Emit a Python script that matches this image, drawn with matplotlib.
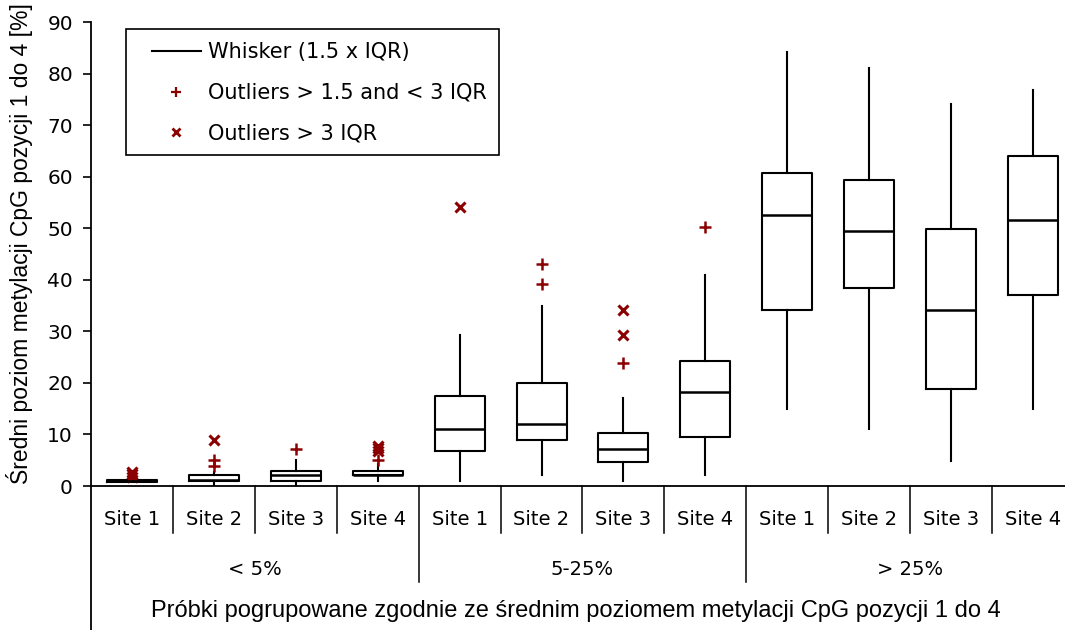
"""Box plot of mean CpG methylation per site, grouped by methylation level."""

import matplotlib
matplotlib.use("Agg")
import matplotlib.pyplot as plt
from matplotlib.lines import Line2D
from matplotlib.patches import Rectangle
from matplotlib.transforms import blended_transform_factory

# Categories
sites = ["Site 1", "Site 2", "Site 3", "Site 4"] * 3
groups = ["< 5%", "5-25%", "> 25%"]

# Box statistics (one value per box)
whislo = [0.7, 0.1, 0.1, 1.0, 1.0, 2.1, 1.0, 2.1, 14.9, 11.0, 4.9, 14.9]
q1 = [0.8, 1.0, 1.0, 2.1, 6.8, 8.9, 4.6, 9.6, 34.1, 38.4, 18.9, 37.0]
med = [1.0, 1.2, 2.1, 2.2, 11.1, 12.1, 7.2, 18.2, 52.6, 49.5, 34.2, 51.5]
q3 = [1.2, 2.1, 3.0, 3.0, 17.5, 20.0, 10.3, 24.2, 60.8, 59.4, 49.8, 64.0]
whishi = [1.3, 2.8, 5.0, 4.2, 29.2, 34.9, 17.1, 40.9, 84.1, 81.1, 74.0, 76.8]

# Outliers: between 1.5 and 3 IQR (+) and beyond 3 IQR (x)
mild = [[], [3.9, 5.0], [7.1], [5.0], [], [39.1, 43.0], [23.9], [50.2],
        [], [], [], []]
extreme = [[1.8, 2.3, 2.8], [8.9], [], [6.8, 7.3, 7.8], [54.1], [],
           [29.2, 34.1], [], [], [], [], []]

dark_red = "#8b0000"
wide_font = "DejaVu Sans"
text_font = ["Liberation Sans", "DejaVu Sans"]

fig = plt.figure(figsize=(10.65, 6.3), dpi=100)
# axes run past the right edge of the figure, as in the original
ax = fig.add_axes([91 / 1065, 144 / 630, 983 / 1065, 464 / 630])

stats = []
for i in range(len(sites)):
    stats.append({"whislo": whislo[i], "q1": q1[i], "med": med[i],
                  "q3": q3[i], "whishi": whishi[i], "fliers": []})

positions = list(range(1, len(sites) + 1))
ax.bxp(stats, positions=positions, widths=0.61, showcaps=False,
       showfliers=False,
       boxprops=dict(color="black", linewidth=1.5),
       whiskerprops=dict(color="black", linewidth=1.5),
       medianprops=dict(color="black", linewidth=1.8))

for pos, vals in zip(positions, mild):
    if vals:
        ax.plot([pos] * len(vals), vals, linestyle="none", marker="+",
                color=dark_red, markersize=8, markeredgewidth=1.8)
for pos, vals in zip(positions, extreme):
    if vals:
        ax.plot([pos] * len(vals), vals, linestyle="none", marker="x",
                color=dark_red, markersize=7, markeredgewidth=2.2)

ax.set_xlim(0.5, 12.5)
ax.set_ylim(0, 90)
ax.set_yticks(range(0, 91, 10))
ax.set_xticks([])
ax.tick_params(axis="y", direction="out", length=6, width=1.2, pad=7,
               labelsize=14.5)
for lab in ax.get_yticklabels():
    lab.set_family(wide_font)

for side in ["top", "right"]:
    ax.spines[side].set_visible(False)
ax.spines["left"].set_linewidth(1.3)
ax.spines["bottom"].set_linewidth(1.3)

# category axis drawn by hand below the plot
trans = blended_transform_factory(ax.transData, ax.transAxes)
ax.plot([0.5, 0.5], [0, -0.32], color="black", lw=1.3, transform=trans,
        clip_on=False)
for k in range(1, len(sites) + 1):
    x = k + 0.5
    depth = -0.207 if k % 4 == 0 else -0.101
    ax.plot([x, x], [0, depth], color="black", lw=1.1, transform=trans,
            clip_on=False)
for pos, name in zip(positions, sites):
    ax.text(pos, -0.073, name, transform=trans, ha="center", va="center",
            fontsize=14, family=wide_font)
for g, name in enumerate(groups):
    ax.text(4 * g + 2.5, -0.179, name, transform=trans, ha="center",
            va="center", fontsize=14, family=wide_font)

fig.text(576 / 1065, 1 - 611 / 630,
         "Próbki pogrupowane zgodnie ze średnim poziomem metylacji CpG "
         "pozycji 1 do 4", ha="center", va="center", fontsize=17,
         family=text_font)
fig.text(20 / 1065, 1 - 244 / 630,
         "Średni poziom metylacji CpG pozycji 1 do 4 [%]", rotation=90,
         ha="center", va="center", fontsize=16.5, family=text_font)

# legend: frame drawn separately so the padding can match the original
fig.patches.append(Rectangle((126 / 1065, 1 - 155 / 630), 373 / 1065,
                             126 / 630, transform=fig.transFigure,
                             facecolor="white", edgecolor="black",
                             linewidth=1.2, zorder=5))
handles = [
    Line2D([], [], color="black", lw=1.5),
    Line2D([], [], linestyle="none", marker="+", color=dark_red,
           markersize=7, markeredgewidth=1.6),
    Line2D([], [], linestyle="none", marker="x", color=dark_red,
           markersize=6, markeredgewidth=2.0),
]
labels = ["Whisker (1.5 x IQR)", "Outliers > 1.5 and < 3 IQR",
          "Outliers > 3 IQR"]
leg = fig.legend(handles, labels, loc="upper left",
                 bbox_to_anchor=(152 / 1065, 1 - 42 / 630),
                 bbox_transform=fig.transFigure, frameon=False,
                 borderpad=0, labelspacing=1.0, handlelength=2.35,
                 handletextpad=0.33, borderaxespad=0,
                 prop={"family": wide_font, "size": 15})
leg.set_zorder(6)

fig.savefig("out.png", dpi=100)
